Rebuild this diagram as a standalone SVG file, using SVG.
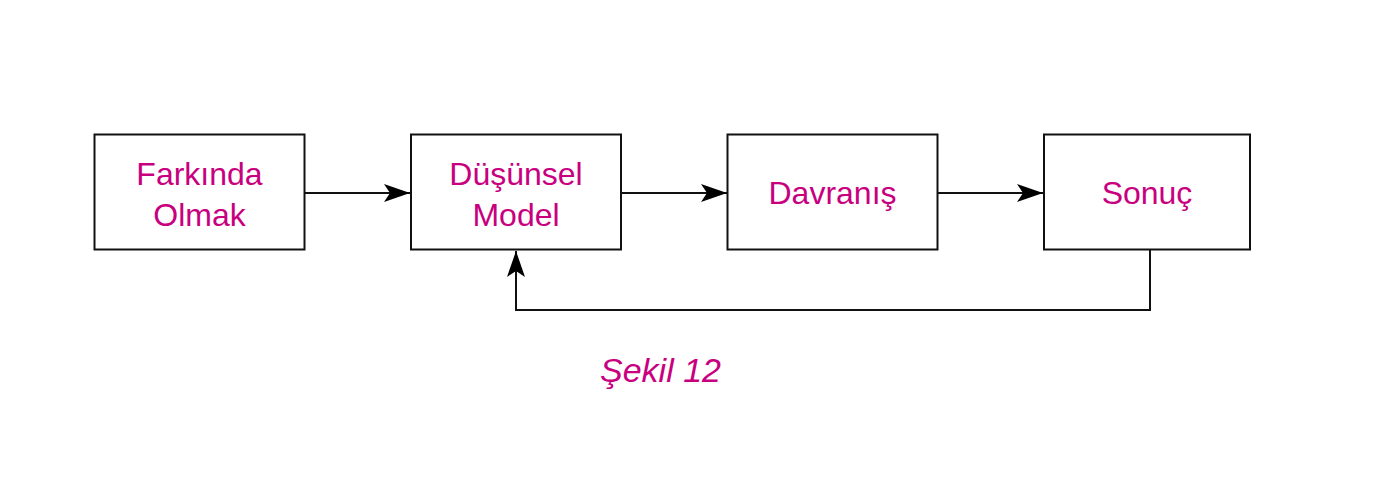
<svg xmlns="http://www.w3.org/2000/svg" width="1385" height="485" viewBox="0 0 1385 485">
<style>
.box{fill:#fff;stroke:#111;stroke-width:2}
.lbl{font-family:"Liberation Sans",Arial,sans-serif;font-size:32px;fill:#C8007F;text-anchor:middle}
.cap{font-family:"Liberation Sans",Arial,sans-serif;font-size:34px;font-style:italic;fill:#C8007F}
.ln{fill:none;stroke:#111;stroke-width:2}
</style>
<defs>
<marker id="ah" markerWidth="28" markerHeight="20" viewBox="0 0 28 20" refX="26" refY="10" orient="auto" markerUnits="userSpaceOnUse">
<path d="M0,1 L26,10 L0,19 L6,10 Z" fill="#000"/>
</marker>
</defs>
<rect width="1385" height="485" fill="#fff"/>
<g id="node-farkinda"><rect class="box" x="94.5" y="134.5" width="210" height="115"/><text class="lbl" x="199.5" y="185">Farkında</text><text class="lbl" x="199.5" y="226">Olmak</text></g>
<g id="node-dusunsel"><rect class="box" x="411" y="134.5" width="210" height="115"/><text class="lbl" x="516" y="185">Düşünsel</text><text class="lbl" x="516" y="226">Model</text></g>
<g id="node-davranis"><rect class="box" x="727.5" y="134.5" width="210" height="115"/><text class="lbl" x="832.5" y="204">Davranış</text></g>
<g id="node-sonuc"><rect class="box" x="1044" y="134.5" width="206" height="115"/><text class="lbl" x="1147" y="204">Sonuç</text></g>
<g id="connectors">
<line class="ln" x1="305" y1="193" x2="410" y2="193" marker-end="url(#ah)"/>
<line class="ln" x1="621" y1="193" x2="727" y2="193" marker-end="url(#ah)"/>
<line class="ln" x1="938" y1="193" x2="1043" y2="193" marker-end="url(#ah)"/>
<polyline class="ln" points="1150,250 1150,310 516,310 516,251" marker-end="url(#ah)"/>
</g>
<text class="cap" x="600" y="382">Şekil 12</text>
</svg>
